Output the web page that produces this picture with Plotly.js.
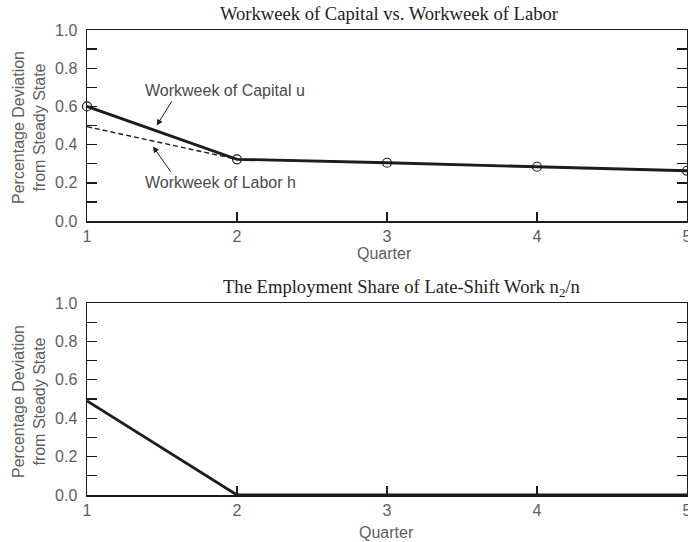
<!DOCTYPE html>
<html>
<head>
<meta charset="utf-8">
<script src="https://cdn.plot.ly/plotly-3.0.1.min.js"></script>
<style>html,body{margin:0;padding:0;background:#fff;}#chart{width:688px;height:542px;}</style>
</head>
<body>
<div id="chart"></div>
<script>
// Data
const quarters = [1, 2, 3, 4, 5];
const capitalU = [0.60, 0.323, 0.305, 0.284, 0.263];
const laborH = [0.494, 0.323, 0.305, 0.284, 0.263];
const lateShiftShare = [0.49, 0.0, 0.0, 0.0, 0.0];
const yTickVals = [0, 0.1, 0.2, 0.3, 0.4, 0.5, 0.6, 0.7, 0.8, 0.9, 1.0];
const yTickText = ['0.0', '', '0.2', '', '0.4', '', '0.6', '', '0.8', '', '1.0'];
const xTickVals = [1, 2, 3, 4, 5];
const xTickText = ['1', '2', '3', '4', '5'];

const W = 688, H = 542;
const px = v => v / W;
const py = v => 1 - v / H;

const ink = '#1c1c1c';
const grayText = '#5e5e5e';
const sans = 'Liberation Sans, Arial, sans-serif';
const serif = 'Liberation Serif, Times New Roman, serif';

const traces = [
  {x: quarters, y: laborH, xaxis: 'x', yaxis: 'y', mode: 'lines',
   line: {color: ink, width: 1.4, dash: '5px,3px'}, hoverinfo: 'skip'},
  {x: quarters, y: capitalU, xaxis: 'x', yaxis: 'y', mode: 'lines+markers',
   line: {color: ink, width: 2.8},
   marker: {symbol: 'circle-open', size: 9, color: ink, line: {width: 1.2}}, cliponaxis: false},
  {x: quarters, y: lateShiftShare, xaxis: 'x2', yaxis: 'y2', mode: 'lines',
   line: {color: ink, width: 2.8}, cliponaxis: false}
];

function xAx(anchor) {
  return {
    domain: [px(87), px(687)], range: [1, 5], anchor: anchor,
    tickvals: xTickVals, ticktext: xTickText,
    ticks: 'inside', ticklen: 9, tickwidth: 1.4, tickcolor: ink,
    showline: true, linecolor: ink, linewidth: 1.5, mirror: true,
    showgrid: false, zeroline: false,
    ticklabeloverflow: 'allow', ticklabelstandoff: 0,
    tickfont: {family: sans, size: 16, color: grayText}
  };
}
function yAx(anchor, top, bottom) {
  return {
    domain: [py(bottom), py(top)], range: [0, 1], anchor: anchor,
    tickvals: yTickVals, ticktext: yTickText,
    ticks: 'inside', ticklen: 10, tickwidth: 1.4, tickcolor: ink,
    showline: true, linecolor: ink, linewidth: 1.5, mirror: 'ticks',
    showgrid: false, zeroline: false,
    tickfont: {family: sans, size: 16, color: grayText},
    ticklabelstandoff: 5
  };
}

const axFont = {family: sans, size: 16, color: grayText};
const annFont = {family: sans, size: 16, color: '#4a4a4a'};
const layout = {
  width: W, height: H,
  margin: {l: 0, r: 0, t: 0, b: 0},
  paper_bgcolor: '#ffffff', plot_bgcolor: '#ffffff',
  showlegend: false,
  xaxis: xAx('y'),
  yaxis: yAx('x', 30, 221),
  xaxis2: xAx('y2'),
  yaxis2: yAx('x2', 303, 495),
  annotations: [
    {text: 'Workweek of Capital vs. Workweek of Labor', xref: 'paper', yref: 'paper',
     x: px(389), y: py(13), xanchor: 'center', yanchor: 'middle', showarrow: false,
     font: {family: serif, size: 18.6, color: '#222222'}},
    {text: 'The Employment Share of Late-Shift Work n<sub>2</sub>/n', xref: 'paper', yref: 'paper',
     x: px(402), y: py(288), xanchor: 'center', yanchor: 'middle', showarrow: false,
     font: {family: serif, size: 18.6, color: '#222222'}},
    {text: 'Quarter', xref: 'paper', yref: 'paper',
     x: px(384), y: py(253), xanchor: 'center', yanchor: 'middle', showarrow: false, font: axFont},
    {text: 'Quarter', xref: 'paper', yref: 'paper',
     x: px(386), y: py(532), xanchor: 'center', yanchor: 'middle', showarrow: false, font: axFont},
    {text: 'Percentage Deviation<br>from Steady State', xref: 'paper', yref: 'paper',
     x: px(29), y: py(128), xanchor: 'center', yanchor: 'middle', showarrow: false,
     textangle: -90, font: axFont},
    {text: 'Percentage Deviation<br>from Steady State', xref: 'paper', yref: 'paper',
     x: px(29), y: py(402), xanchor: 'center', yanchor: 'middle', showarrow: false,
     textangle: -90, font: axFont},
    {text: 'Workweek of Capital u', xref: 'x', yref: 'y', x: 1.373, y: 0.681,
     xanchor: 'left', yanchor: 'middle', showarrow: false, font: annFont},
    {text: 'Workweek of Labor h', xref: 'x', yref: 'y', x: 1.373, y: 0.20,
     xanchor: 'left', yanchor: 'middle', showarrow: false, font: annFont},
    {text: '', xref: 'x', yref: 'y', x: 1.465, y: 0.50, axref: 'x', ayref: 'y',
     ax: 1.571, ay: 0.634, showarrow: true, arrowhead: 2, arrowsize: 1.2, arrowwidth: 1, arrowcolor: ink},
    {text: '', xref: 'x', yref: 'y', x: 1.44, y: 0.39, axref: 'x', ayref: 'y',
     ax: 1.565, ay: 0.25, showarrow: true, arrowhead: 2, arrowsize: 1.2, arrowwidth: 1, arrowcolor: ink}
  ]
};

Plotly.newPlot('chart', traces, layout, {displayModeBar: false, staticPlot: true});
</script>
</body>
</html>
